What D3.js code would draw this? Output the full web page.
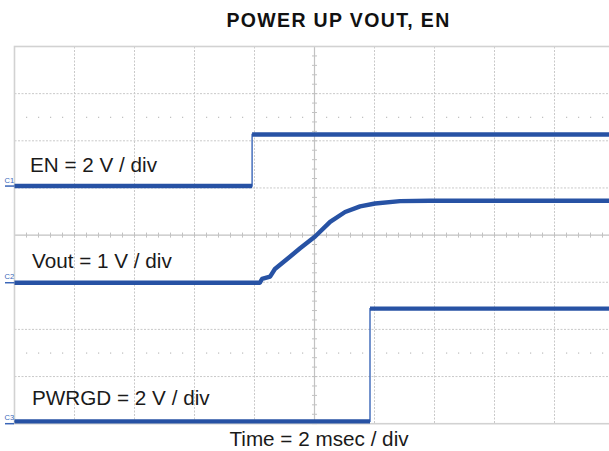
<!DOCTYPE html>
<html>
<head>
<meta charset="utf-8">
<script src="https://cdn.jsdelivr.net/npm/d3@7"></script>
<style>
  html, body { margin: 0; padding: 0; background: #fff; }
  svg { display: block; }
  text { font-family: "Liberation Sans", Arial, sans-serif; }
</style>
</head>
<body>
<svg id="chart" width="609" height="451"></svg>
<script>
// Horizontal timebase: 2 ms/div, 10 divisions, trigger at centre
const TIME_DOMAIN_MS = [-10, 10];
const DIV_DOMAIN = [-4, 4];

// Channel 1: EN (2 V/div)
const EN_TIME = [-10, -2.08, -2.08, 10];
const EN_VOLTS = [0, 0, 2.19, 2.19];

// Channel 2: Vout (1 V/div)
const VOUT_TIME = [-10, -1.82, -1.75, -1.48, -1.32, -0.82, -0.48, 0.02, 0.52, 1.02, 1.52, 2.02, 2.85, 3.85, 10];
const VOUT_VOLTS = [0, 0, 0.08, 0.13, 0.29, 0.55, 0.73, 0.98, 1.29, 1.50, 1.62, 1.68, 1.73, 1.74, 1.74];

// Channel 3: PWRGD (2 V/div)
const PWRGD_TIME = [-10, 1.85, 1.85, 10];
const PWRGD_VOLTS = [0.1, 0.1, 4.88, 4.88];

// Channel setup: name, volts/div, ground marker position (divisions from centre)
const CH_NAMES = ["C1", "C2", "C3"];
const CH_VOLTS_PER_DIV = [2, 1, 2];
const CH_OFFSET_DIV = [1.04, -1.01, -4];
const CH_LABELS = ["EN = 2 V / div", "Vout = 1 V / div", "PWRGD = 2 V / div"];

const TITLE = "POWER UP VOUT, EN";
const X_LABEL = "Time = 2 msec / div";

const svg = d3.select("#chart");
const x = d3.scaleLinear().domain(TIME_DOMAIN_MS).range([14.5, 614.5]);
const y = d3.scaleLinear().domain(DIV_DOMAIN).range([423.7, 46.5]);

const gridColor = "#c9c9c9";
const traceColor = "#2752a4";

// Graticule
const grid = svg.append("g");
const timeLines = d3.range(TIME_DOMAIN_MS[0] + 2, TIME_DOMAIN_MS[1], 2);
const divLines = d3.range(DIV_DOMAIN[0] + 1, DIV_DOMAIN[1], 1);

grid.selectAll("line.v").data(timeLines.filter(t => t !== 0)).join("line")
  .attr("x1", d => x(d)).attr("x2", d => x(d))
  .attr("y1", y(4)).attr("y2", y(-4))
  .attr("stroke", gridColor).attr("stroke-width", 1)
  .attr("stroke-dasharray", "2,1.5");

grid.selectAll("line.h").data(divLines.filter(d => d !== 0)).join("line")
  .attr("x1", x(-10)).attr("x2", x(10))
  .attr("y1", d => y(d)).attr("y2", d => y(d))
  .attr("stroke", gridColor).attr("stroke-width", 1)
  .attr("stroke-dasharray", "2,1.5");

// Sub-division dot rows
const subTimes = d3.range(-10, 10.001, 0.4).filter(t => Math.abs(t / 2 - Math.round(t / 2)) > 0.01);
[2.5, -2.5].forEach(dv => {
  grid.append("g").selectAll("rect").data(subTimes).join("rect")
    .attr("x", d => x(d) - 0.5).attr("y", y(dv) - 0.5)
    .attr("width", 1.2).attr("height", 1.2)
    .attr("fill", "#bdbdbd");
});

// Centre axes with minor ticks
grid.append("line")
  .attr("x1", x(-10)).attr("x2", x(10)).attr("y1", y(0)).attr("y2", y(0))
  .attr("stroke", "#c2c2c2").attr("stroke-width", 1.2);
grid.append("line")
  .attr("x1", x(0)).attr("x2", x(0)).attr("y1", y(4)).attr("y2", y(-4))
  .attr("stroke", "#c2c2c2").attr("stroke-width", 1.2);
grid.append("g").selectAll("line").data(d3.range(-10, 10.001, 0.4)).join("line")
  .attr("x1", d => x(d)).attr("x2", d => x(d))
  .attr("y1", y(0) - 2.5).attr("y2", y(0) + 2.5)
  .attr("stroke", "#c2c2c2").attr("stroke-width", 1);
grid.append("g").selectAll("line").data(d3.range(-4, 4.001, 0.2)).join("line")
  .attr("x1", x(0) - 2.5).attr("x2", x(0) + 2.5)
  .attr("y1", d => y(d)).attr("y2", d => y(d))
  .attr("stroke", "#c2c2c2").attr("stroke-width", 1);

// Border
grid.append("rect")
  .attr("x", x(-10)).attr("y", y(4))
  .attr("width", x(10) - x(-10)).attr("height", y(-4) - y(4))
  .attr("fill", "none").attr("stroke", "#d2d2d2").attr("stroke-width", 1.6);

// Traces
const traces = [
  { t: EN_TIME, v: EN_VOLTS },
  { t: VOUT_TIME, v: VOUT_VOLTS },
  { t: PWRGD_TIME, v: PWRGD_VOLTS }
];
traces.forEach((tr, i) => {
  const pts = tr.t.map((t, k) => ({ t, v: tr.v[k] }));
  const toY = d => y(CH_OFFSET_DIV[i] + d.v / CH_VOLTS_PER_DIV[i]);
  const line = d3.line().x(d => x(d.t)).y(toY);
  // thin full trace (shows fast edges)
  svg.append("path").datum(pts).attr("d", line)
    .attr("fill", "none").attr("stroke", "#3a66b8").attr("stroke-width", 1.4);
  // thick trace on sloped / flat segments
  const segs = [];
  for (let k = 1; k < pts.length; k++) {
    if (pts[k].t !== pts[k - 1].t) segs.push([pts[k - 1], pts[k]]);
  }
  const merged = [];
  segs.forEach(s => {
    const last = merged[merged.length - 1];
    if (last && last[last.length - 1] === s[0]) last.push(s[1]);
    else merged.push([s[0], s[1]]);
  });
  merged.forEach(seg => {
    svg.append("path").datum(seg).attr("d", line)
      .attr("fill", "none").attr("stroke", traceColor)
      .attr("stroke-width", 4.4).attr("stroke-linejoin", "round");
  });

  // Ground marker and channel name
  const gy = y(CH_OFFSET_DIV[i]);
  svg.append("line").attr("x1", 5).attr("x2", 14).attr("y1", gy).attr("y2", gy)
    .attr("stroke", "#3a66b8").attr("stroke-width", 1.5);
  svg.append("text").attr("x", 4.5).attr("y", gy - 3.5)
    .attr("font-size", 7.5).attr("fill", "#3a66b8").text(CH_NAMES[i]);
});

// Channel scale labels
const labelPos = [[30, 172], [32, 268], [32, 405]];
CH_LABELS.forEach((s, i) => {
  svg.append("text").attr("x", labelPos[i][0]).attr("y", labelPos[i][1])
    .attr("font-size", 20.7).attr("fill", "#1a1a1a").text(s);
});

// Title and time label
svg.append("text").attr("x", 338.5).attr("y", 27).attr("text-anchor", "middle")
  .attr("font-size", 19.5).attr("font-weight", "bold").attr("letter-spacing", 1.35)
  .attr("fill", "#111").text(TITLE);
svg.append("text").attr("x", 319).attr("y", 446).attr("text-anchor", "middle")
  .attr("font-size", 20.7).attr("fill", "#1a1a1a").text(X_LABEL);
</script>
</body>
</html>
